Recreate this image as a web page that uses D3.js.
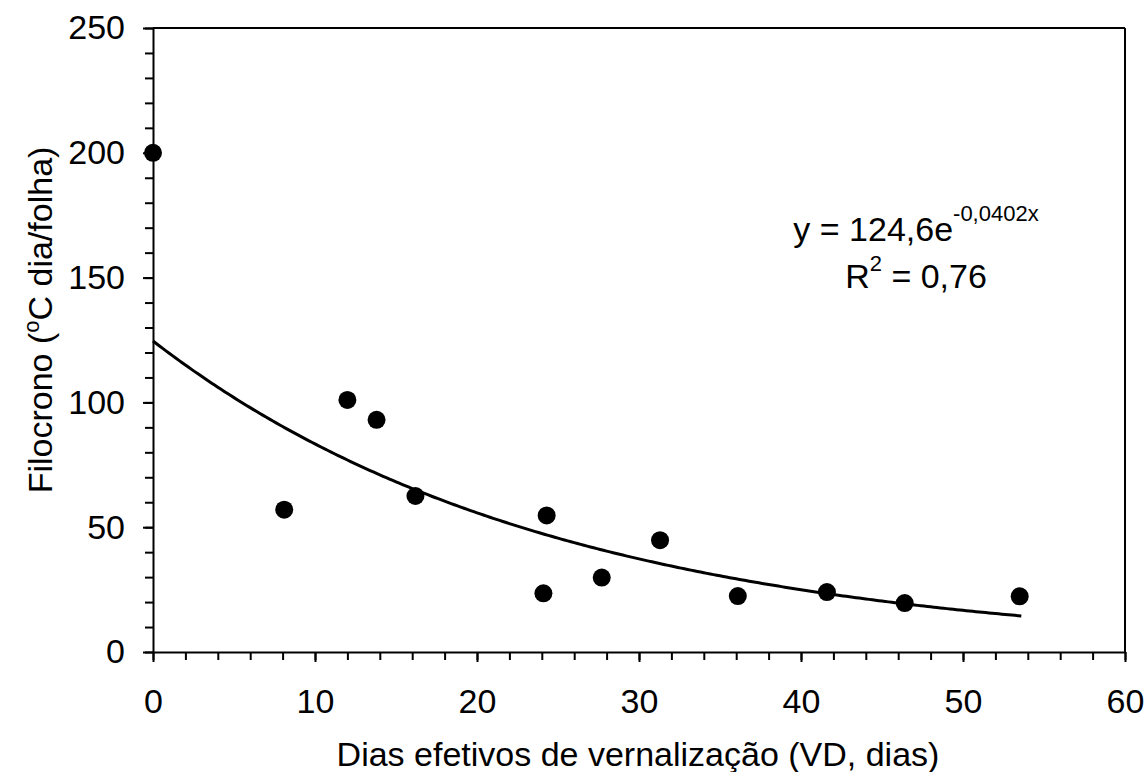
<!DOCTYPE html>
<html>
<head>
<meta charset="utf-8">
<script src="https://cdn.jsdelivr.net/npm/d3@7"></script>
<style>
  body { margin: 0; background: #fff; }
  text { font-family: "Liberation Sans", Arial, sans-serif; fill: #000; }
</style>
</head>
<body>
<div id="chart"></div>
<script>
// observed points (VD, phyllochron)
const vdDays = [0, 8.1, 12.0, 13.8, 16.2, 24.1, 24.3, 27.7, 31.3, 36.1, 41.6, 46.4, 53.5];
const filocrono = [200, 57, 101, 93, 62.5, 23.5, 54.7, 29.8, 44.8, 22.4, 24.0, 19.6, 22.3];

// fitted curve y = a * exp(b x), as printed on the chart
const fitA = 124.6;
const fitB = -0.0402;
const fitRange = [0, 53.6];

const xTicks = [0, 10, 20, 30, 40, 50, 60];
const yTicks = [0, 50, 100, 150, 200, 250];

const width = 1146, height = 772;
const margin = { top: 28, right: 21, bottom: 120, left: 153 };
const innerW = width - margin.left - margin.right;
const innerH = height - margin.top - margin.bottom;

const svg = d3.select('#chart').append('svg')
    .attr('width', width)
    .attr('height', height);

const chart = svg.append('g')
    .attr('transform', `translate(${margin.left}, ${margin.top})`);

const xScale = d3.scaleLinear().domain([0, 60]).range([0, innerW]);
const yScale = d3.scaleLinear().domain([0, 250]).range([innerH, 0]);

// box (top and right)
chart.append('line')
    .attr('x1', 0).attr('x2', innerW).attr('y1', 0).attr('y2', 0)
    .attr('stroke', '#000').attr('stroke-width', 2);
chart.append('line')
    .attr('x1', innerW).attr('x2', innerW).attr('y1', 0).attr('y2', innerH)
    .attr('stroke', '#000').attr('stroke-width', 2);

// minor ticks
chart.append('g')
    .attr('class', 'axis x-minor')
    .attr('transform', `translate(0, ${innerH})`)
    .call(d3.axisBottom(xScale).ticks(30).tickSize(8).tickFormat(''))
    .call(g => g.select('.domain').remove());
chart.append('g')
    .attr('class', 'axis y-minor')
    .call(d3.axisLeft(yScale).ticks(25).tickSize(8).tickFormat(''))
    .call(g => g.select('.domain').remove());

// major axes
const xAxisGroup = chart.append('g')
    .attr('class', 'axis x-axis')
    .attr('transform', `translate(0, ${innerH})`)
    .call(d3.axisBottom(xScale).tickValues(xTicks).tickSize(10).tickPadding(27).tickSizeOuter(0));
const yAxisGroup = chart.append('g')
    .attr('class', 'axis y-axis')
    .call(d3.axisLeft(yScale).tickValues(yTicks).tickSize(10).tickPadding(18).tickSizeOuter(0));

svg.selectAll('.axis line').attr('stroke', '#000').attr('stroke-width', 2);
svg.selectAll('.axis .domain').attr('stroke', '#000').attr('stroke-width', 2);
svg.selectAll('.axis text')
    .style('font-family', '"Liberation Sans", Arial, sans-serif')
    .style('font-size', '34px')
    .attr('fill', '#000');

// fitted curve
const curveXs = d3.range(fitRange[0], fitRange[1] + 0.001, 0.2);
const line = d3.line()
    .x(d => xScale(d))
    .y(d => yScale(fitA * Math.exp(fitB * d)));
chart.append('path')
    .datum(curveXs)
    .attr('d', line)
    .attr('fill', 'none')
    .attr('stroke', '#000')
    .attr('stroke-width', 3);

// points
chart.append('g')
    .selectAll('circle')
    .data(vdDays.map((v, i) => ({ x: v, y: filocrono[i] })))
    .enter()
    .append('circle')
    .attr('cx', d => xScale(d.x))
    .attr('cy', d => yScale(d.y))
    .attr('r', 9)
    .attr('fill', '#000');

// equation
const eq = svg.append('text')
    .attr('x', 916)
    .attr('y', 241)
    .attr('text-anchor', 'middle')
    .style('font-size', '34px');
eq.append('tspan').text('y = 124,6e');
eq.append('tspan').attr('dy', -20).style('font-size', '22px').text('-0,0402x');

const r2 = svg.append('text')
    .attr('x', 916)
    .attr('y', 288)
    .attr('text-anchor', 'middle')
    .style('font-size', '34px');
r2.append('tspan').text('R');
r2.append('tspan').attr('dy', -17).style('font-size', '22px').text('2');
r2.append('tspan').attr('dy', 17).text(' = 0,76');

// X axis label
svg.append('text')
    .attr('text-anchor', 'middle')
    .attr('x', 638)
    .attr('y', 766)
    .style('font-size', '34px')
    .text('Dias efetivos de vernalização (VD, dias)');

// Y axis label
const yl = svg.append('text')
    .attr('text-anchor', 'middle')
    .attr('transform', 'rotate(-90)')
    .attr('x', -320)
    .attr('y', 52)
    .style('font-size', '34px');
yl.append('tspan').text('Filocrono (');
yl.append('tspan').attr('dy', -13).style('font-size', '22px').text('o');
yl.append('tspan').attr('dy', 13).text('C dia/folha)');
</script>
</body>
</html>
